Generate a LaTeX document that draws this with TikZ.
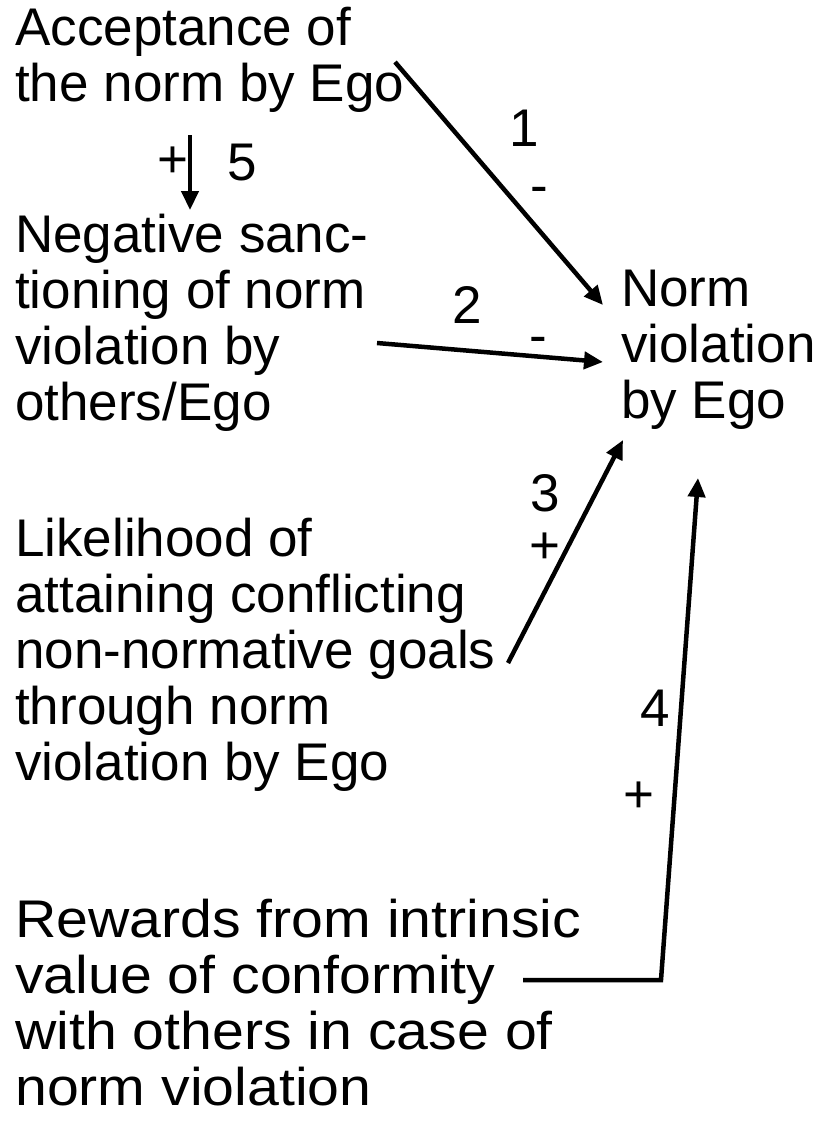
\documentclass[tikz,border=0pt]{standalone}
\usepackage{fontspec}
\setmainfont{Liberation Sans}
\newfontfamily\widesans[FakeStretch=1.08]{Liberation Sans}
\usetikzlibrary{arrows.meta,positioning}
\tikzset{
  box/.style={anchor=north west, inner sep=0pt, align=left, font=\fontsize{53}{56}\selectfont},
  widebox/.style={box, font=\widesans\fontsize{53}{56}\selectfont},
  sign/.style={inner sep=0pt, font=\fontsize{53}{56}\selectfont},
  link/.style={line width=4.5pt, -{Triangle[length=19pt,width=17pt]}},
}
\begin{document}
\begin{tikzpicture}[x=1pt,y=-1pt]
  \useasboundingbox (0,0) rectangle (819,1128);
  % the determinants on the left, the outcome on the right
  \node[box] (accept) at (15,7) {Acceptance of\\the norm by Ego};
  \node[box] (sanction) at (15,214) {Negative sanc-\\tioning of norm\\violation by\\others/Ego};
  \node[box] (likely) at (15,518) {Likelihood of\\attaining conflicting\\non-normative goals\\through norm\\violation by Ego};
  \node[widebox] (reward) at (15,899) {Rewards from intrinsic\\value of conformity\\with others in case of\\norm violation};
  \node[box] (viol) at (621,270) {Norm\\violation\\by Ego};
  % free ends of the arrows
  \coordinate (s1) at (395,62);
  \coordinate (t1) at (603,305);
  \coordinate (s2) at (377,343);
  \coordinate (t2) at (603,362);
  \coordinate (s3) at (508,663);
  \coordinate (t3) at (623,440);
  \coordinate (s4) at (523,980);
  \coordinate (k4) at (661,980);
  \coordinate (t4) at (698,478);
  \coordinate (s5) at (190,135);
  \coordinate (t5) at (190,210);
  \draw[link] (s1) -- (t1);
  \draw[link] (s2) -- (t2);
  \draw[link] (s3) -- (t3);
  \draw[link] (s4) -- (k4) -- (t4);
  \draw[link] (s5) -- (t5);
  % numbers and signs
  \node[sign] (n1) at (524,128) {1};
  \node[sign] (m1) at (539,195) {-};
  \node[sign] (n2) at (467,305) {2};
  \node[sign] (m2) at (538,345) {-};
  \node[sign] (n3) at (545,493) {3};
  \node[sign] (p3) at (545,548) {+};
  \node[sign] (n4) at (655,708) {4};
  \node[sign] (p4) at (639,797) {+};
  \node[sign] (p5) at (173,162) {+};
  \node[sign] (n5) at (242,163) {5};
\end{tikzpicture}
\end{document}
